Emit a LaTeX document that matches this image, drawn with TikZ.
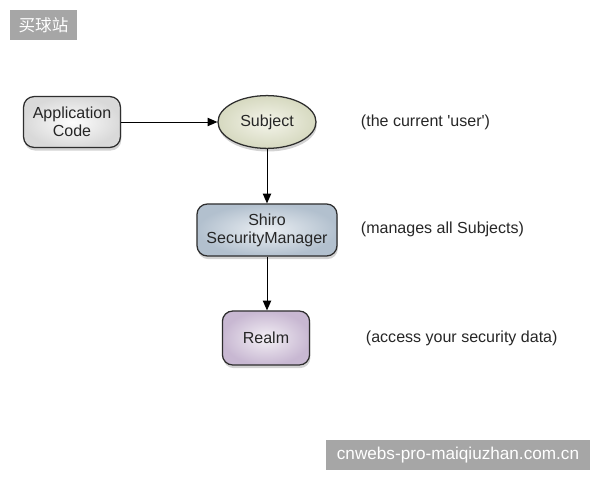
\documentclass[tikz,border=0pt]{standalone}
\usepackage{fontspec}
\setmainfont{Liberation Sans}
\newfontfamily\cjkfont{Noto Sans CJK SC}
\usetikzlibrary{shapes.geometric,arrows.meta,shadows}
\definecolor{ShLine}    {HTML}{2E2E2E}
\definecolor{ShAppIn}   {HTML}{FDFDFD}
\definecolor{ShAppOut}  {HTML}{D9D9D9}
\definecolor{ShSubjIn}  {HTML}{F4F4EA}
\definecolor{ShSubjOut} {HTML}{D6D9C0}
\definecolor{ShMgrIn}   {HTML}{EBEFF3}
\definecolor{ShMgrOut}  {HTML}{B2C0CE}
\definecolor{ShRealmIn} {HTML}{F3EFF5}
\definecolor{ShRealmOut}{HTML}{C8B8D2}
\definecolor{ShMark}    {HTML}{A6A6A6}

\begin{document}
\begin{tikzpicture}[x=0.025cm,y=-0.025cm,
    box/.style={draw=ShLine,line width=0.9pt,rounded corners=0.26cm,align=center,
      font=\fontsize{11.4}{13}\selectfont,text=black!85,
      drop shadow={shadow xshift=0.6pt,shadow yshift=-2.2pt,opacity=0.35}},
    note/.style={anchor=west,font=\fontsize{11.4}{13}\selectfont,text=black!85},
    link/.style={line width=0.7pt,-{Triangle[length=7pt,width=6pt]}},
    wmbox/.style={fill=ShMark,text=white,inner sep=0pt}]
  \useasboundingbox (0,0) rectangle (600,480);

  % Watermarks
  \node[wmbox,minimum width=1.68cm,minimum height=0.75cm,font=\cjkfont\fontsize{11.8}{13}\selectfont]
    (wmtop) at (43.5,25){买球站};
  \node[wmbox,minimum width=6.6cm,minimum height=0.75cm,font=\fontsize{12.2}{13}\selectfont]
    (wmbot) at (458,455){cnwebs-pro-maiqiuzhan.com.cn};

  % Nodes
  \node[box,minimum width=2.42cm,minimum height=1.27cm,inner color=ShAppIn,outer color=ShAppOut]
    (app) at (72,122){Application\\Code};
  \node[box,ellipse,minimum width=2.45cm,minimum height=1.32cm,inner sep=0pt,
    inner color=ShSubjIn,outer color=ShSubjOut]
    (subject) at (267,122){Subject};
  \node[box,minimum width=3.5cm,minimum height=1.3cm,inner color=ShMgrIn,outer color=ShMgrOut]
    (manager) at (267,230){Shiro\\SecurityManager};
  \node[box,minimum width=2.18cm,minimum height=1.35cm,inner color=ShRealmIn,outer color=ShRealmOut]
    (realm) at (266,338){Realm};

  % Notes
  \node[note] (subjnote)  at (356,122){(the current \textquotesingle user\textquotesingle)};
  \node[note] (mgrnote)   at (356,229){(manages all Subjects)};
  \node[note] (realmnote) at (361,338){(access your security data)};

  % Links
  \draw[link] (app) -- (subject);
  \draw[link] (subject) -- (manager);
  \draw[link] (manager) -- (realm.north -| manager.south);
\end{tikzpicture}
\end{document}
